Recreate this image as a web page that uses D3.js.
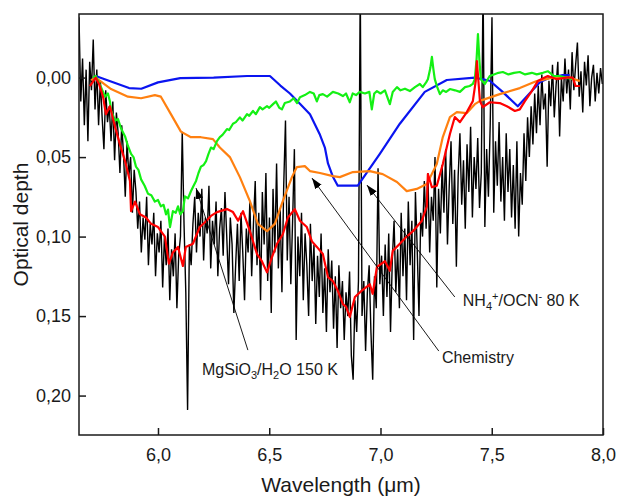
<!DOCTYPE html>
<html>
<head>
<meta charset="utf-8">
<script src="https://cdn.jsdelivr.net/npm/d3@7"></script>
<style>
  body { margin: 0; background: #fff; }
  text { font-family: "Liberation Sans", Arial, sans-serif; fill: #1a1a1a; }
</style>
</head>
<body>
<div id="chart"></div>
<script>
// Observed spectrum (black), sampled every 0.008 um from 5.645 um
const obsStart = 5.645, obsStep = 0.008;
const obsTau = [
  -0.038, 0.015, -0.012, 0.030, -0.005, 0.040, -0.010, 0.008, -0.024, 0.020,
  -0.005, 0.030, 0.002, 0.025, 0.045, 0.008, 0.028, 0.018, 0.040, 0.015,
  0.052, 0.022, 0.035, 0.060, 0.030, 0.048, 0.075, 0.040, 0.062, 0.050,
  0.085, 0.058, 0.072, 0.095, 0.078, 0.110, 0.088, 0.102, 0.075, 0.118,
  0.092, 0.105, 0.085, 0.125, 0.098, 0.110, 0.090, 0.132, 0.100, 0.118,
  0.095, 0.140, 0.108, 0.125, 0.098, 0.145, 0.112, 0.100, 0.034, 0.092,
  0.135, 0.209, 0.105, 0.118, 0.092, 0.075, 0.110, 0.085, 0.100, 0.070,
  0.115, 0.088, 0.098, 0.068, 0.120, 0.090, 0.105, 0.078, 0.125, 0.095,
  0.082, 0.112, 0.072, 0.100, 0.130, 0.088, 0.105, 0.148, 0.118, 0.092,
  0.128, 0.085, 0.110, 0.140, 0.095, 0.110, 0.078, 0.125, 0.092, 0.065,
  0.118, 0.085, 0.140, 0.072, 0.105, 0.060, 0.128, 0.088, 0.148, 0.070,
  0.110, 0.054, 0.120, 0.082, 0.135, 0.068, 0.027, 0.115, 0.075, 0.130,
  0.090, 0.045, 0.165, 0.100, 0.125, 0.085, 0.140, 0.098, 0.118, 0.150,
  0.092, 0.128, 0.105, 0.155, 0.112, 0.138, 0.098, 0.148, 0.120, 0.160,
  0.108, 0.135, 0.115, 0.158, 0.125, 0.170, 0.118, 0.145, 0.128, 0.165,
  0.135, 0.150, 0.122, 0.175, 0.190, 0.140, 0.160, 0.128, -0.060, 0.150,
  0.128, 0.172, 0.135, 0.118, 0.160, 0.190, 0.125, 0.145, 0.057, 0.130,
  0.112, 0.150, 0.105, 0.138, 0.098, 0.160, 0.115, 0.090, 0.135, 0.108,
  0.145, 0.085, 0.125, 0.095, 0.140, 0.078, 0.118, 0.090, 0.165, 0.072,
  0.108, 0.150, 0.085, 0.100, 0.065, 0.095, 0.060, 0.110, 0.075, 0.090,
  0.050, 0.132, 0.070, 0.098, 0.055, 0.085, 0.045, 0.105, 0.068, 0.040,
  0.092, 0.058, 0.119, 0.062, 0.035, 0.080, 0.052, 0.095, 0.042, 0.072,
  0.031, 0.088, 0.050, 0.070, 0.038, 0.082, 0.060, -0.060, 0.094, 0.045,
  0.075, 0.030, -0.038, 0.085, 0.040, 0.068, 0.028, 0.078, 0.050, 0.090,
  0.035, 0.072, 0.045, 0.088, 0.055, 0.095, 0.040, 0.100, 0.060, 0.080,
  0.035, 0.065, 0.025, 0.050, 0.018, 0.042, 0.010, 0.035, 0.005, 0.030,
  -0.002, 0.020, 0.010, 0.056, 0.002, 0.018, -0.008, 0.025, 0.005, -0.010,
  0.037, 0.000, 0.015, -0.012, 0.010, -0.005, 0.020, -0.016, 0.008, -0.008,
  -0.022, 0.012, -0.004, 0.022, -0.010, 0.005, -0.014, 0.018, 0.000, -0.008,
  0.015, -0.003, 0.010, -0.006, 0.004
];

// NH4+/OCN- 80 K (blue)
const nh4Wl  = [5.72, 5.82, 5.87, 5.925, 6.0, 6.1, 6.25, 6.4, 6.503, 6.55, 6.593, 6.64, 6.683, 6.728, 6.75, 6.764, 6.785, 6.808, 6.898, 6.997, 7.087, 7.199, 7.298, 7.424, 7.491, 7.545, 7.617, 7.68, 7.716, 7.761, 7.815, 7.85];
const nh4Tau = [-0.001, 0.004, 0.0066, 0.007, 0.003, 0.0003, 0.0, -0.001, -0.001, 0.005, 0.010, 0.0167, 0.023, 0.036, 0.044, 0.054, 0.062, 0.068, 0.068, 0.048, 0.029, 0.009, 0.0015, 0.0, 0.002, 0.0085, 0.018, 0.0085, 0.003, 0.0, -0.0015, -0.0015];

// Chemistry (orange)
const chemWl  = [5.699, 5.72, 5.789, 5.865, 5.924, 5.986, 6.013, 6.058, 6.103, 6.148, 6.193, 6.247, 6.278, 6.323, 6.368, 6.413, 6.449, 6.49, 6.525, 6.561, 6.602, 6.624, 6.66, 6.683, 6.728, 6.786, 6.817, 6.876, 6.952, 7.01, 7.074, 7.118, 7.163, 7.208, 7.253, 7.28, 7.312, 7.343, 7.388, 7.424, 7.45, 7.536, 7.626, 7.702, 7.774, 7.85, 7.896];
const chemTau = [0.0016, 0.0, 0.0072, 0.012, 0.013, 0.011, 0.012, 0.023, 0.034, 0.0375, 0.0375, 0.0387, 0.044, 0.05, 0.0626, 0.0777, 0.092, 0.0966, 0.092, 0.0777, 0.0626, 0.0563, 0.0557, 0.0588, 0.06, 0.062, 0.0626, 0.0594, 0.0588, 0.0607, 0.0657, 0.0714, 0.070, 0.067, 0.0544, 0.0374, 0.0248, 0.0217, 0.0223, 0.0167, 0.0145, 0.0104, 0.0066, 0.0022, 0.0, 0.0, 0.0022];

// MgSiO3/H2O 150 K (green)
const mgWl  = [5.708, 5.72, 5.744, 5.762, 5.775, 5.784, 5.79, 5.807, 5.82, 5.834, 5.852, 5.865, 5.879, 5.89, 5.901, 5.912, 5.924, 5.94, 5.955, 5.97, 5.986, 6.0, 6.013, 6.025, 6.036, 6.045, 6.054, 6.067, 6.08, 6.09, 6.1, 6.112, 6.121, 6.135, 6.148, 6.16, 6.171, 6.182, 6.193, 6.205, 6.216, 6.227, 6.238, 6.25, 6.265, 6.278, 6.29, 6.31, 6.32, 6.337, 6.35, 6.368, 6.38, 6.4, 6.41, 6.427, 6.44, 6.458, 6.47, 6.49, 6.5, 6.517, 6.53, 6.545, 6.557, 6.57, 6.593, 6.61, 6.625, 6.638, 6.66, 6.683, 6.7, 6.714, 6.725, 6.741, 6.76, 6.786, 6.81, 6.831, 6.845, 6.862, 6.875, 6.89, 6.907, 6.93, 6.95, 6.961, 6.972, 6.984, 7.0, 7.02, 7.042, 7.055, 7.074, 7.09, 7.11, 7.132, 7.155, 7.177, 7.19, 7.205, 7.213, 7.224, 7.231, 7.238, 7.244, 7.255, 7.267, 7.28, 7.295, 7.312, 7.335, 7.357, 7.38, 7.401, 7.415, 7.424, 7.432, 7.438, 7.445, 7.451, 7.469, 7.491, 7.51, 7.53, 7.55, 7.575, 7.6, 7.626, 7.65, 7.68, 7.702, 7.73, 7.752, 7.78, 7.806, 7.835, 7.864];
const mgTau = [0.0, -0.001, 0.006, 0.012, 0.010, 0.015, 0.021, 0.027, 0.026, 0.032, 0.037, 0.043, 0.048, 0.050, 0.056, 0.058, 0.064, 0.068, 0.073, 0.074, 0.078, 0.077, 0.081, 0.080, 0.086, 0.083, 0.094, 0.084, 0.085, 0.081, 0.086, 0.084, 0.0747, 0.076, 0.0715, 0.068, 0.065, 0.060, 0.056, 0.055, 0.0525, 0.048, 0.044, 0.045, 0.040, 0.0374, 0.036, 0.0324, 0.033, 0.029, 0.028, 0.025, 0.027, 0.023, 0.024, 0.021, 0.023, 0.0186, 0.020, 0.018, 0.019, 0.0167, 0.015, 0.019, 0.020, 0.016, 0.015, 0.013, 0.016, 0.0123, 0.011, 0.009, 0.010, 0.015, 0.011, 0.0104, 0.012, 0.009, 0.010, 0.0116, 0.010, 0.0155, 0.010, 0.011, 0.009, 0.010, 0.009, 0.020, 0.010, 0.0085, 0.010, 0.008, 0.0167, 0.009, 0.006, 0.008, 0.007, 0.0085, 0.006, 0.004, 0.006, 0.003, 0.001, -0.006, -0.013, -0.005, 0.001, 0.006, 0.0104, 0.008, 0.009, 0.0072, 0.008, 0.009, 0.006, 0.0053, 0.004, 0.001, -0.012, -0.0274, -0.010, 0.001, 0.004, -0.001, -0.002, -0.003, -0.0035, -0.002, -0.003, -0.0035, -0.002, -0.003, -0.002, -0.003, -0.004, -0.001, -0.001, 0.0, 0.001];

// Fit / sum (red)
const fitWl  = [5.694, 5.72, 5.735, 5.753, 5.766, 5.784, 5.807, 5.829, 5.852, 5.874, 5.879, 5.897, 5.919, 5.946, 5.969, 6.0, 6.031, 6.049, 6.067, 6.09, 6.112, 6.125, 6.157, 6.188, 6.211, 6.238, 6.265, 6.31, 6.337, 6.36, 6.382, 6.413, 6.445, 6.467, 6.49, 6.512, 6.535, 6.561, 6.584, 6.615, 6.638, 6.669, 6.692, 6.714, 6.741, 6.764, 6.786, 6.808, 6.831, 6.845, 6.862, 6.885, 6.916, 6.952, 6.965, 6.984, 7.02, 7.042, 7.055, 7.087, 7.118, 7.146, 7.186, 7.208, 7.213, 7.231, 7.253, 7.28, 7.312, 7.334, 7.357, 7.388, 7.415, 7.428, 7.433, 7.44, 7.447, 7.46, 7.491, 7.536, 7.568, 7.604, 7.626, 7.649, 7.68, 7.707, 7.738, 7.752, 7.792, 7.837, 7.864, 7.877, 7.896];
const fitTau = [0.0053, 0.0, 0.004, 0.012, 0.023, 0.018, 0.031, 0.042, 0.0525, 0.065, 0.084, 0.078, 0.086, 0.088, 0.092, 0.094, 0.1, 0.117, 0.11, 0.1065, 0.1185, 0.1065, 0.1045, 0.094, 0.091, 0.087, 0.0846, 0.0827, 0.0846, 0.09, 0.084, 0.0966, 0.111, 0.1155, 0.1225, 0.113, 0.1045, 0.0985, 0.088, 0.0827, 0.09, 0.094, 0.103, 0.1065, 0.111, 0.1255, 0.128, 0.134, 0.1425, 0.144, 0.1505, 0.138, 0.134, 0.13, 0.136, 0.119, 0.1155, 0.1215, 0.109, 0.1045, 0.1, 0.0966, 0.09, 0.081, 0.0607, 0.069, 0.068, 0.0544, 0.0355, 0.0248, 0.028, 0.0217, 0.0148, 0.0022, -0.0104, 0.002, 0.0148, 0.0186, 0.0155, 0.016, 0.018, 0.021, 0.02, 0.0148, 0.0085, 0.0022, 0.0, -0.001, 0.001, 0.0, 0.0, 0.0053, 0.0053];

// Axis ticks
const xTicks = [6.0, 6.5, 7.0, 7.5, 8.0];
const yTicks = [0.00, 0.05, 0.10, 0.15, 0.20];

// Size and margins
const margin = { top: 14, right: 16, bottom: 64, left: 79 },
      width = 619 - margin.left - margin.right,
      height = 499 - margin.top - margin.bottom;

const svg = d3.select("#chart")
  .append("svg")
    .attr("width", width + margin.left + margin.right)
    .attr("height", height + margin.top + margin.bottom)
  .append("g")
    .attr("transform", `translate(${margin.left},${margin.top})`);

// Scales
const x = d3.scaleLinear().domain([5.645, 8.0]).range([0, width]);
const y = d3.scaleLinear().domain([-0.040, 0.2248]).range([0, height]);

const comma = d => d.toFixed(2).replace(".", ",");

// Clip
svg.append("clipPath").attr("id", "clip")
  .append("rect").attr("width", width).attr("height", height);

const line = d3.line().x(d => x(d[0])).y(d => y(d[1]));
const plot = svg.append("g").attr("clip-path", "url(#clip)");

const obs = obsTau.map((t, i) => [obsStart + i * obsStep, t]);
const zip = (a, b) => a.map((v, i) => [v, b[i]]);

plot.append("path").datum(obs)
  .attr("d", line).attr("fill", "none")
  .attr("stroke", "#000").attr("stroke-width", 1.4);

const series = [
  { data: zip(nh4Wl, nh4Tau), color: "#0a14f0" },
  { data: zip(chemWl, chemTau), color: "#ff8010" },
  { data: zip(mgWl, mgTau), color: "#14f014" },
  { data: zip(fitWl, fitTau), color: "#ff0000" }
];
series.forEach(s => {
  plot.append("path").datum(s.data)
    .attr("d", line).attr("fill", "none")
    .attr("stroke", s.color).attr("stroke-width", 2.2)
    .attr("stroke-linejoin", "round");
});

// Axes
const xAxis = svg.append("g")
  .attr("transform", `translate(0,${height})`)
  .call(d3.axisBottom(x).tickValues(xTicks).tickSize(-7).tickPadding(13)
    .tickFormat(d => d.toFixed(1).replace(".", ",")));
const yAxis = svg.append("g")
  .call(d3.axisLeft(y).tickValues(yTicks).tickSize(-7).tickPadding(8)
    .tickFormat(comma));

[xAxis, yAxis].forEach(a => {
  a.select(".domain").remove();
  a.selectAll("line").attr("stroke", "#1a1a1a").attr("stroke-width", 1.5);
  a.selectAll("text").style("font-size", "18px")
    .style("font-family", "'Liberation Sans', Arial, sans-serif").attr("fill", "#1a1a1a");
});

// Frame
svg.append("rect")
  .attr("width", width).attr("height", height)
  .attr("fill", "none").attr("stroke", "#1a1a1a").attr("stroke-width", 1.5);

// Axis titles
svg.append("text")
  .attr("x", width / 2).attr("y", height + 57)
  .attr("text-anchor", "middle").style("font-size", "21px")
  .text("Wavelength (μm)");
svg.append("text")
  .attr("transform", `translate(${28 - margin.left},${height / 2}) rotate(-90)`)
  .attr("text-anchor", "middle").style("font-size", "21px")
  .text("Optical depth");

// Arrow head
svg.append("defs").append("marker")
  .attr("id", "arrow").attr("viewBox", "0 0 10 10")
  .attr("refX", 10).attr("refY", 5)
  .attr("markerWidth", 11).attr("markerHeight", 11)
  .attr("markerUnits", "userSpaceOnUse")
  .attr("orient", "auto")
  .append("path").attr("d", "M0,1.5 L10,5 L0,8.5 Z").attr("fill", "#000");

// Annotations: [tail, tip] in data units
const notes = [
  { from: [7.334, 0.138], to: [6.939, 0.0676] },
  { from: [7.262, 0.172], to: [6.692, 0.0632] },
  { from: [6.404, 0.1714], to: [6.171, 0.0695] }
];
notes.forEach(n => {
  svg.append("line")
    .attr("x1", x(n.from[0])).attr("y1", y(n.from[1]))
    .attr("x2", x(n.to[0])).attr("y2", y(n.to[1]))
    .attr("stroke", "#000").attr("stroke-width", 0.9)
    .attr("marker-end", "url(#arrow)");
});

// Labels with sub/superscripts
function label(px, py, parts) {
  const t = svg.append("text")
    .attr("x", x(px)).attr("y", y(py))
    .style("font-size", "16px");
  let shift = 0;
  parts.forEach(p => {
    const target = p[1] === "sub" ? 4 : p[1] === "sup" ? -6 : 0;
    t.append("tspan")
      .attr("dy", target - shift)
      .style("font-size", p[1] ? "11px" : "16px")
      .text(p[0]);
    shift = target;
  });
}
label(7.37, 0.1437, [["NH"], ["4", "sub"], ["+", "sup"], ["/OCN"], ["-", "sup"], [" 80 K"]]);
label(7.276, 0.1795, [["Chemistry"]]);
label(6.198, 0.1871, [["MgSiO"], ["3", "sub"], ["/H"], ["2", "sub"], ["O 150 K"]]);
</script>
</body>
</html>
